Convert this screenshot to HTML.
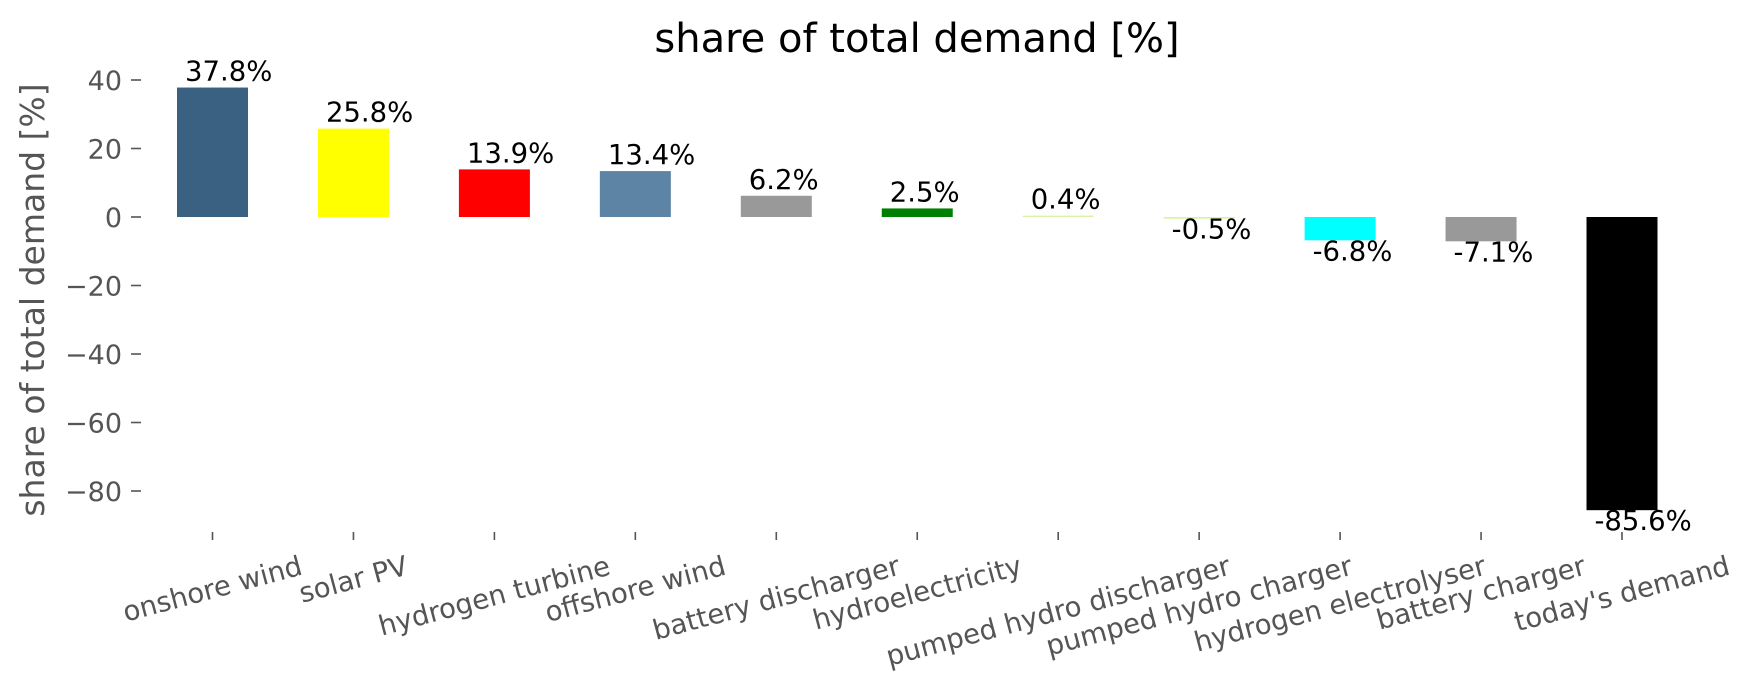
<!DOCTYPE html>
<html><head><meta charset="utf-8">
<style>
html,body{margin:0;padding:0;background:#fff;}
svg{display:block;}
text{font-family:"DejaVu Sans","Liberation Sans",sans-serif;}
</style></head>
<body>
<svg id="s" width="1753" height="689" viewBox="0 0 1753 689" xmlns="http://www.w3.org/2000/svg">
<text x="917" y="52" font-size="40" text-anchor="middle" fill="#000">share of total demand [%]</text>
<text transform="translate(44,300) rotate(-90)" font-size="33" text-anchor="middle" fill="#555">share of total demand [%]</text>
<g id="yt" fill="#555" font-size="27"></g>
<g id="bars"></g>
<g id="xt" fill="#555" font-size="27.5"></g>
</svg>
<script>
var NS="http://www.w3.org/2000/svg";
function el(t,a,txt){var e=document.createElementNS(NS,t);for(var k in a)e.setAttribute(k,a[k]);if(txt!=null)e.textContent=txt;return e;}
var z=217,s=3.425;
var yt=document.getElementById('yt');
[40,20,0,-20,-40,-60,-80].forEach(function(v){
  var y=z-s*v;
  yt.appendChild(el('text',{x:122,y:y+10,'text-anchor':'end'},(v<0?'\u2212':'')+Math.abs(v)));
  yt.appendChild(el('line',{x1:131,x2:141,y1:y,y2:y,stroke:'#555','stroke-width':1.6}));
});
var data=[["onshore wind",37.8,"#3b6182"],["solar PV",25.8,"#ffff00"],["hydrogen turbine",13.9,"#ff0000"],["offshore wind",13.4,"#5e84a5"],["battery discharger",6.2,"#999999"],["hydroelectricity",2.5,"#008000"],["pumped hydro discharger",0.4,"#d6f5a0"],["pumped hydro charger",-0.5,"#d6f5a0"],["hydrogen electrolyser",-6.8,"#00ffff"],["battery charger",-7.1,"#999999"],["today's demand",-85.6,"#000000"]];
var bars=document.getElementById('bars'),xt=document.getElementById('xt');
var fs=27.5;
data.forEach(function(d,i){
  var cx=212.5+140.95*i,w=71,l=cx-w/2,h=Math.abs(d[1])*s;
  var top=d[1]>=0?z-h:z;
  bars.appendChild(el('rect',{x:l,y:top,width:w,height:Math.max(h,1.4),fill:d[2]}));
  var lab=d[1].toFixed(1)+'%';
  var by=d[1]>=0?top-7:z+h+20;
  bars.appendChild(el('text',{x:l+8,y:by,'font-size':27.5,fill:'#000'},lab));
  xt.appendChild(el('line',{x1:cx,x2:cx,y1:532,y2:540,stroke:'#555','stroke-width':1.6}));
  var t=el('text',{x:cx,y:585,'text-anchor':'middle','dominant-baseline':'central'},d[0]);
  xt.appendChild(t);
  var L=t.getComputedTextLength();
  var cy=550+(L*0.2588+1.16*fs*0.9659)/2;
  t.setAttribute('y',cy);
  t.setAttribute('transform','rotate(-15 '+cx+' '+cy+')');
});
</script>
</body></html>
